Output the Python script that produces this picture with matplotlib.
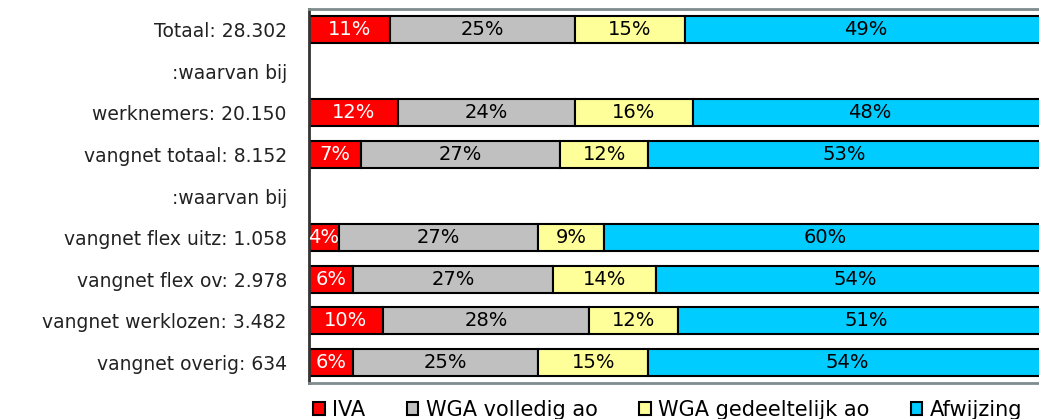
import matplotlib.pyplot as plt
import numpy as np

categories = ["Totaal: 28.302", ":waarvan bij", "werknemers: 20.150", "vangnet totaal: 8.152",
              ":waarvan bij", "vangnet flex uitz: 1.058", "vangnet flex ov: 2.978",
              "vangnet werklozen: 3.482", "vangnet overig: 634"]
series = ["IVA", "WGA volledig ao", "WGA gedeeltelijk ao", "Afwijzing"]
# percentages per row; None = empty row
iva = [11, None, 12, 7, None, 4, 6, 10, 6]
wga_vol = [25, None, 24, 27, None, 27, 27, 28, 25]
wga_ged = [15, None, 16, 12, None, 9, 14, 12, 15]
afwijzing = [49, None, 48, 53, None, 60, 54, 51, 54]

colors = ["#FF0000", "#C0C0C0", "#FFFF99", "#00CCFF"]
text_colors = ["white", "black", "black", "black"]

fig = plt.figure(figsize=(10.39, 4.19), dpi=100)
# plot area runs past the right edge of the picture, as in the original
ax = fig.add_axes([309 / 1039, 36 / 419, 738 / 1039, 374 / 419])

y = np.arange(len(categories))
left = np.zeros(len(categories))
for vals, name, col, tcol in zip([iva, wga_vol, wga_ged, afwijzing], series, colors, text_colors):
    v = np.array([0 if x is None else x for x in vals], dtype=float)
    bars = ax.barh(y, v, left=left, height=0.65, color=col, edgecolor="black",
                   linewidth=1.5, label=name)
    for i, x in enumerate(vals):
        if x is None:
            bars[i].set_visible(False)
            continue
        ax.text(left[i] + x / 2, y[i], f"{x}%", ha="center", va="center",
                color=tcol, fontsize=14)
    left += v

ax.set_xlim(0, 100)
ax.set_ylim(len(categories) - 0.5, -0.5)
ax.set_yticks(y)
ax.set_yticklabels(categories, fontsize=13.5, color="#222222")
ax.tick_params(axis="y", length=0, pad=16)
ax.set_xticks([])
ax.spines["right"].set_visible(False)
ax.spines["left"].set_color("#333333")
ax.spines["left"].set_linewidth(2)
for s in ["top", "bottom"]:
    ax.spines[s].set_color("#7f8c8d")
    ax.spines[s].set_linewidth(2)

fig.legend(loc="lower left", bbox_to_anchor=(305 / 1039, -0.022), ncol=4, frameon=False,
           fontsize=15, handlelength=0.55, handleheight=0.55, handletextpad=0.35,
           columnspacing=2.0, borderaxespad=0)

fig.savefig("out.png", dpi=100)
